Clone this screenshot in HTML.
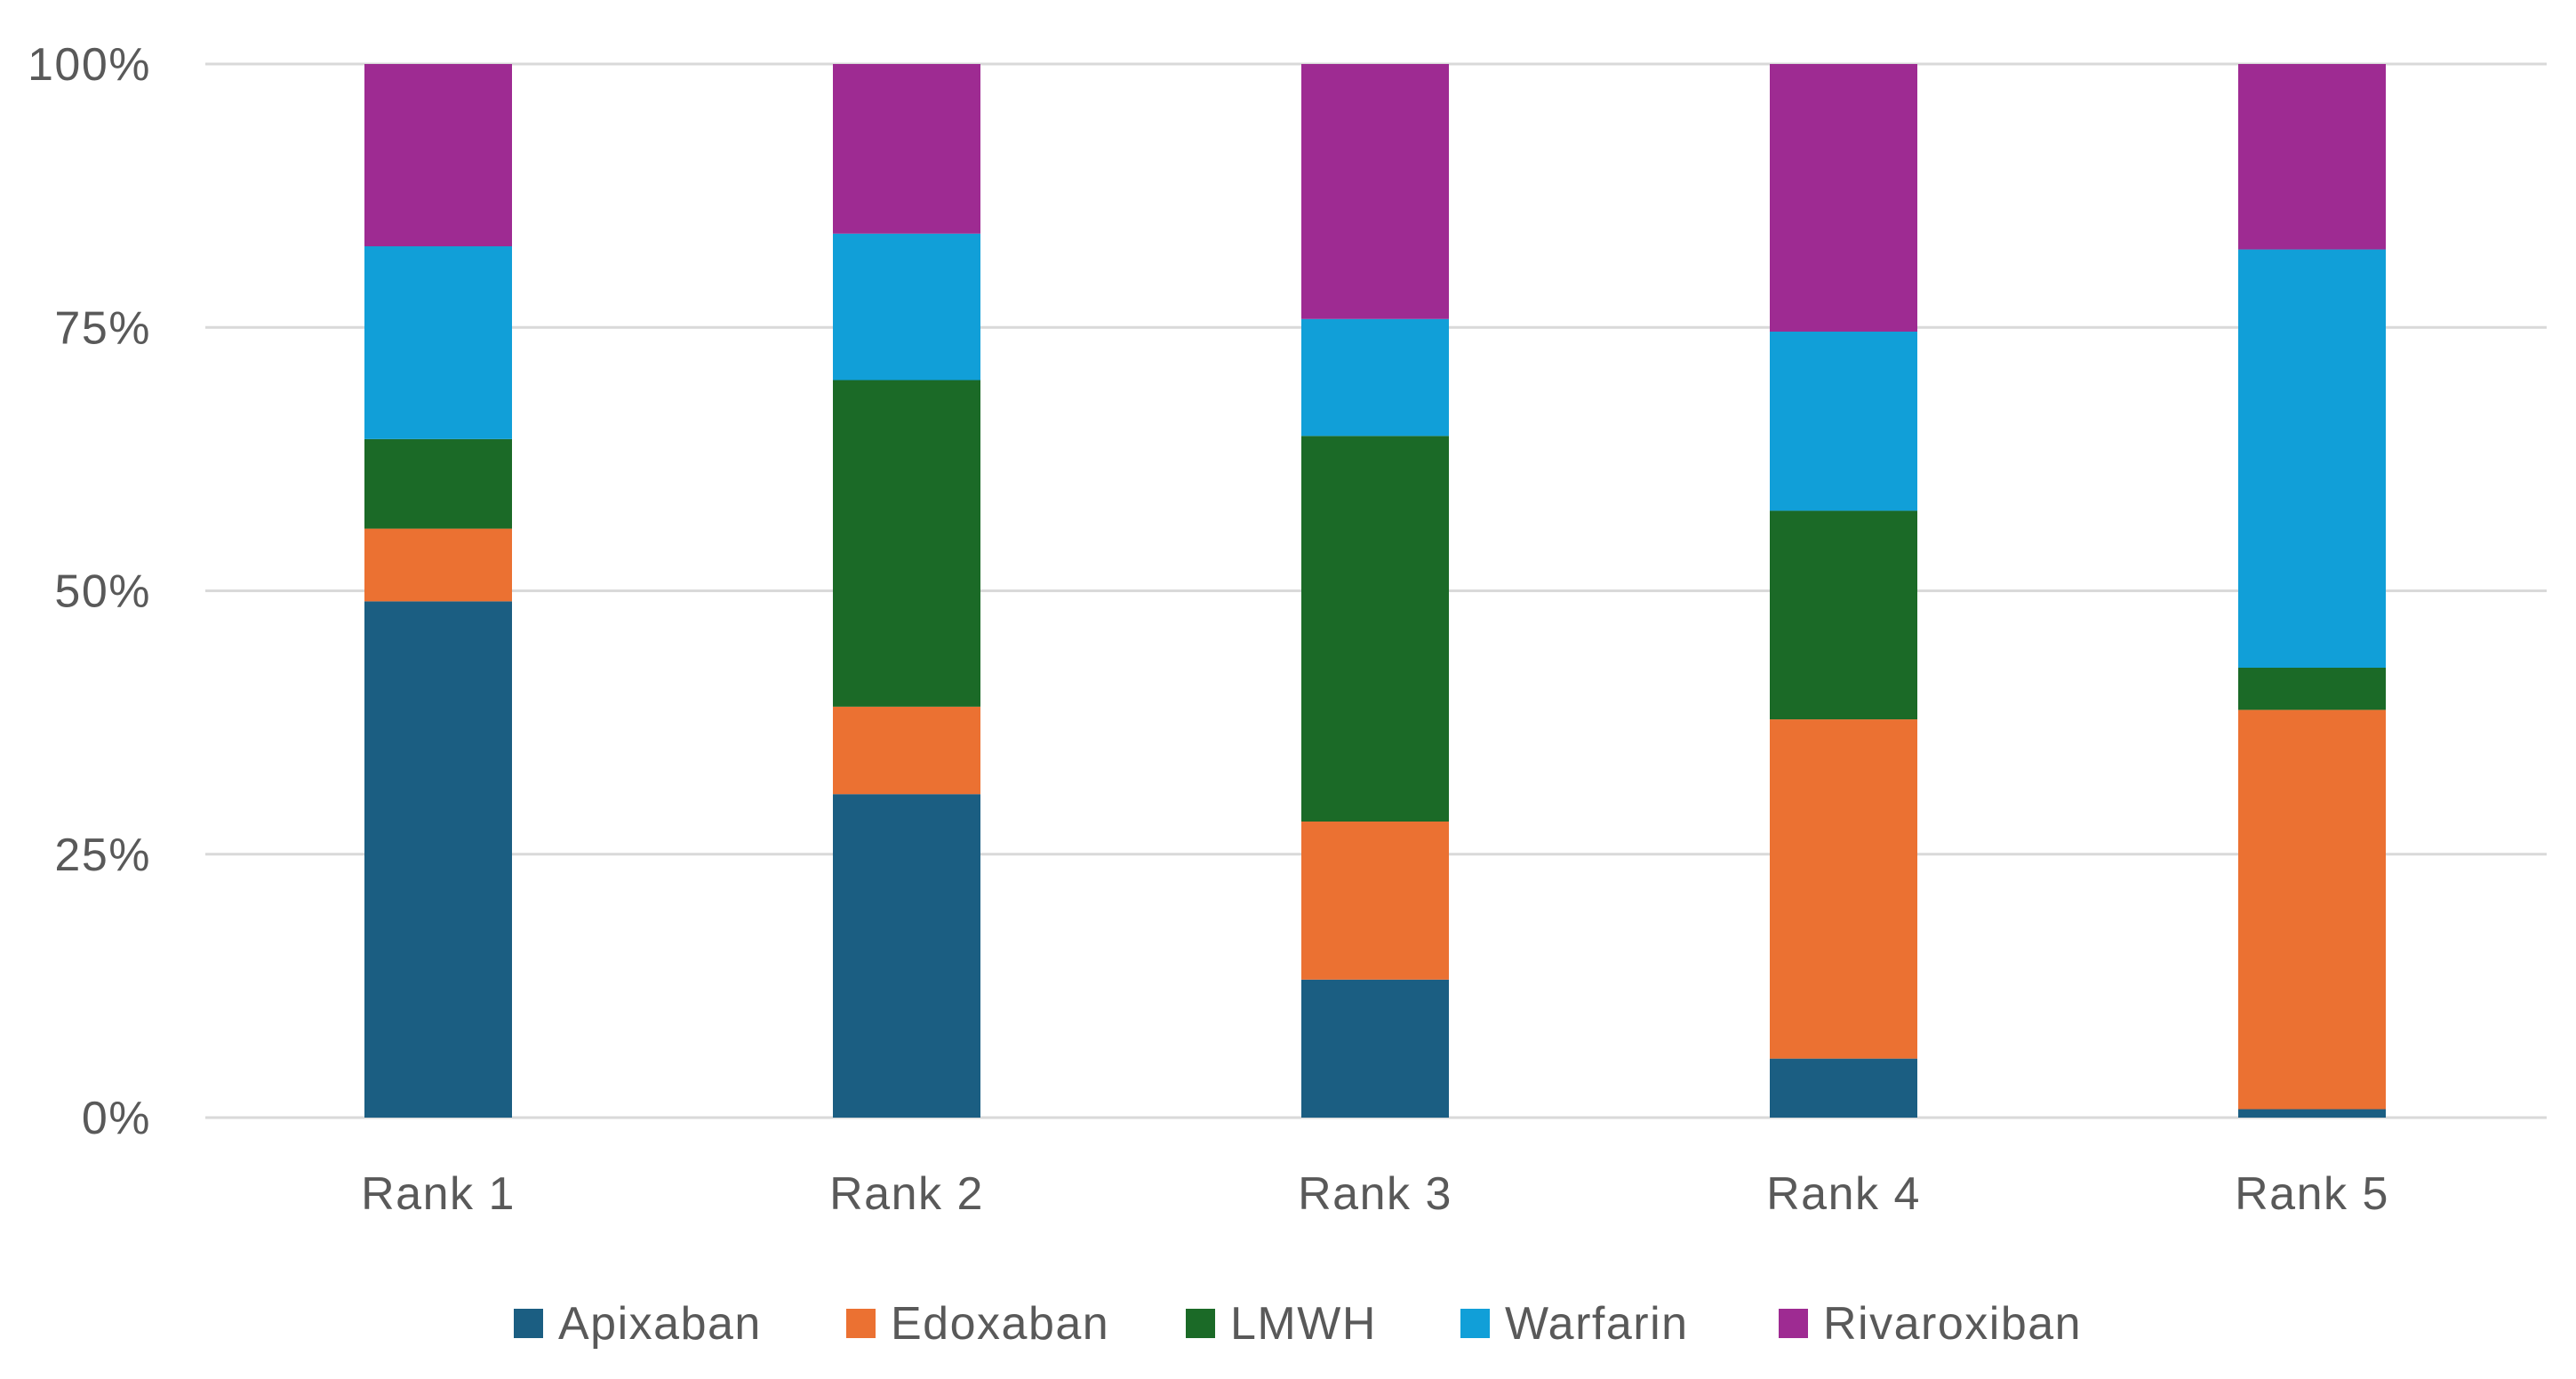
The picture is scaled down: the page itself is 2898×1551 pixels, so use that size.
<!DOCTYPE html>
<html><head><meta charset="utf-8"><style>
body{margin:0;background:#fff;}
svg text{font-family:"Liberation Sans",sans-serif;fill:#595959;letter-spacing:1.5px;}
</style></head><body>
<svg id="chart" width="2898" height="1546" viewBox="0 0 2898 1546" xmlns="http://www.w3.org/2000/svg">
<rect width="2898" height="1546" fill="#fff"/>
<g id="grid"></g><g id="bars"></g><g id="labels"></g><g id="legend"></g>
</svg>
<script>
const categories = ["Rank 1","Rank 2","Rank 3","Rank 4","Rank 5"];
const seriesNames = ["Apixaban","Edoxaban","LMWH","Warfarin","Rivaroxiban"];
const apixaban = [49.0, 30.7, 13.1, 5.6, 0.8];
const edoxaban = [6.9, 8.3, 15.0, 32.2, 37.9];
const lmwh = [8.5, 31.0, 36.6, 19.8, 4.0];
const warfarin = [18.3, 13.9, 11.1, 17.0, 39.7];
const rivaroxiban = [17.3, 16.1, 24.2, 25.4, 17.6];
const yTicks = [0, 25, 50, 75, 100];
const tickLabels = ["0%","25%","50%","75%","100%"];

const NS="http://www.w3.org/2000/svg";
const colors=["#1b5e82","#eb7132","#1b6a27","#119fd8","#9e2b92"];
const series=[apixaban,edoxaban,lmwh,warfarin,rivaroxiban];
const y0=1257,y1=72,xL=231,xR=2865;
const yS=v=>y0-(v/100)*(y0-y1);
const step=527,firstC=493,barW=166;
const xC=i=>firstC+i*step;
function mk(tag,attrs,parent){const e=document.createElementNS(NS,tag);for(const k in attrs)e.setAttribute(k,attrs[k]);parent.appendChild(e);return e;}
const grid=document.getElementById('grid'),bars=document.getElementById('bars'),labels=document.getElementById('labels'),legend=document.getElementById('legend');
yTicks.forEach((t,i)=>{
  const l=mk('line',{x1:xL,x2:xR,y1:yS(t),y2:yS(t),stroke:'#d9d9d9','stroke-width':3},grid);
  
  
  const tx=mk('text',{x:170,y:yS(t)+18,'text-anchor':'end','font-size':52},labels);
  tx.textContent=tickLabels[i];
  
  
});
categories.forEach((c,i)=>{
  let cum=0;
  series.forEach((s,j)=>{
    const v=s[i];
    const r=mk('rect',{x:xC(i)-barW/2,y:yS(cum+v),width:barW,height:yS(cum)-yS(cum+v),fill:colors[j]},bars);
    
    
    cum+=v;
  });
  const tx=mk('text',{x:xC(i),y:1360,'text-anchor':'middle','font-size':52},labels);
  tx.textContent=c;
  
  
});
const legX=[578,952,1334,1643,2001];
seriesNames.forEach((n,j)=>{
  const g=mk('g',{},legend);
  
  
  mk('rect',{x:legX[j],y:1472,width:33,height:33,fill:colors[j]},g);
  const t=mk('text',{x:legX[j]+50,y:1506,'font-size':52},g);
  t.textContent=n;
});
</script>
</body></html>
